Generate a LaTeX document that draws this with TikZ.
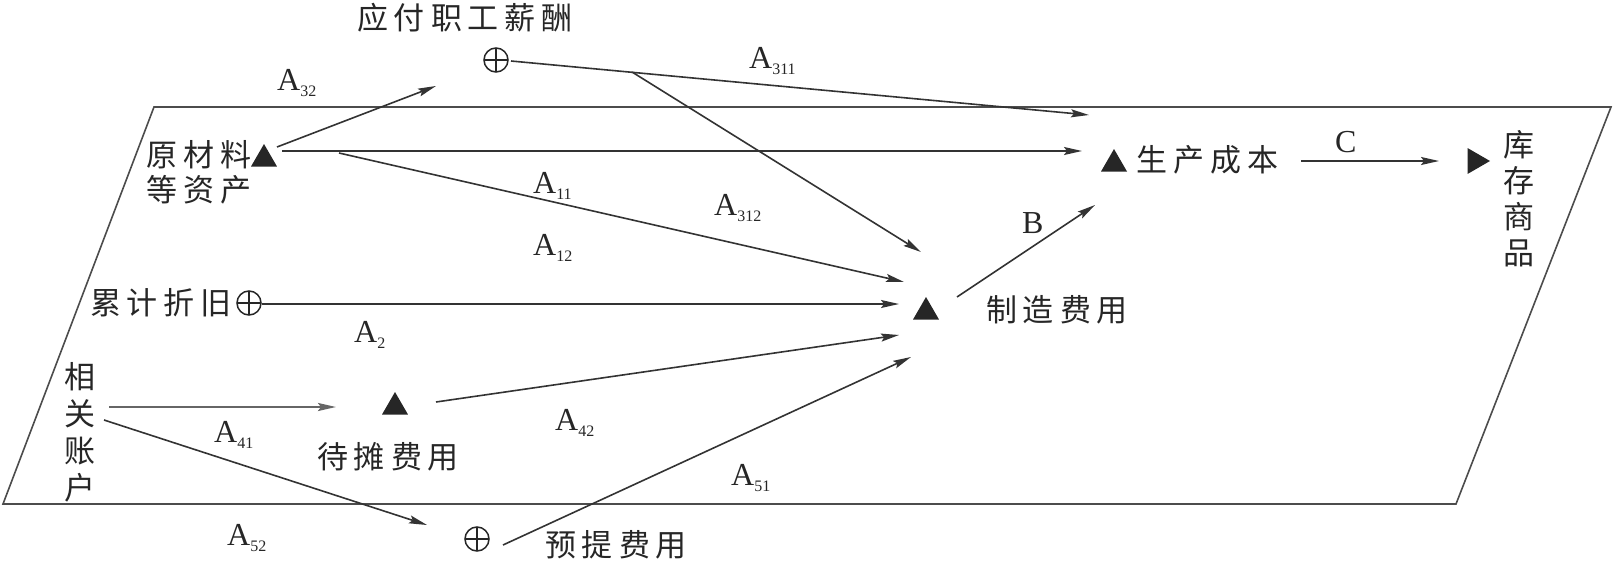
\documentclass[tikz,border=0pt]{standalone}
\usepackage{fontspec}
\newfontfamily\cjk{Noto Sans CJK SC}
\newfontfamily\tms{Liberation Serif}
\usetikzlibrary{shapes.geometric,arrows.meta}
\makeatletter
\newcommand\ls[1]{\@tfor\lsch:=#1\do{\lsch\kern6pt}\unkern}
\makeatother
\newcommand\lab[2]{#1\raisebox{-6pt}{\fontsize{16}{16}\selectfont #2}}
\begin{document}
\begin{tikzpicture}[x=1pt,y=-1pt,
  ln/.style={line width=1.6pt, draw=black!80},
  arr/.style={ln, -{Stealth[length=18pt,width=8pt,inset=3pt]}},
  tri/.style={regular polygon, regular polygon sides=3, fill=black!85, inner sep=0pt, minimum size=30pt},
  plus/.style={circle, draw=black!85, line width=1.5pt, minimum size=24pt, inner sep=0pt,
    path picture={\draw[line width=1.5pt,black!85] (path picture bounding box.north) -- (path picture bounding box.south)
      (path picture bounding box.west) -- (path picture bounding box.east);}},
  txt/.style={font=\cjk\fontsize{31}{35}\selectfont, inner sep=0pt, text=black!85},
  vtxt/.style={txt, align=center},
  lbl/.style={font=\tms\fontsize{32}{32}\selectfont, inner sep=0pt, anchor=base west, text=black!85}
]
\useasboundingbox (0,0) rectangle (1617,562);
% plane
\draw[line width=1.6pt, draw=black!70] (154,107) -- (1611,107) -- (1456,504) -- (3,504) -- cycle;

% nodes
\node[txt] (wagetxt) at (465,18) {\ls{应付职工薪酬}};
\node[plus] (plus1) at (496,60) {};
\node[txt, anchor=west, align=left] (rawtxt) at (146,172) {\ls{原材料}\\\ls{等资产}};
\node[tri] (tri1) at (264,159) {};
\node[tri] (tri2) at (1114,164) {};
\node[txt, anchor=west] (prodtxt) at (1136,160) {\ls{生产成本}};
\node[tri, shape border rotate=-90] (tri3) at (1475,161) {};
\node[vtxt, font=\cjk\fontsize{31}{36}\selectfont] (invtxt) at (1519,199) {库\\存\\商\\品};
\node[tri] (tri4) at (926,312) {};
\node[txt] (mfgtxt) at (1057,310) {\ls{制造费用}};
\node[txt] (deptxt) at (161,303) {\ls{累计折旧}};
\node[plus] (plus2) at (249,303) {};
\node[vtxt, font=\cjk\fontsize{31}{37}\selectfont] (reltxt) at (80,432) {相\\关\\账\\户};
\node[tri] (tri5) at (395,407) {};
\node[txt] (pretxt) at (388,457) {\ls{待摊费用}};
\node[plus] (plus3) at (477,539) {};
\node[txt] (acctxt) at (616,545) {\ls{预提费用}};

% connectors
\draw[arr] ([shift={(13,-12)}]tri1.center) -- ([shift={(-60,26)}]plus1.center);
\draw[arr] ([shift={(18,-8)}]tri1.center) -- ([shift={(-32,-13)}]tri2.center);
\draw[arr] ([shift={(75,-6)}]tri1.center) -- ([shift={(-22,-30)}]tri4.center);
\draw[arr] ([shift={(15,1)}]plus1.center) -- ([shift={(-25,-49)}]tri2.center);
\draw[arr] ([shift={(136,12)}]plus1.center) -- ([shift={(-5,-60)}]tri4.center);
\draw[arr] ([shift={(31,-15)}]tri4.center) -- ([shift={(-19,41)}]tri2.center);
\draw[arr] ([shift={(23,1)}]prodtxt.east) -- ([shift={(-36,0)}]tri3.center);
\draw[arr] ([shift={(13,1)}]plus2.center) -- ([shift={(-27,-8)}]tri4.center);
\draw[arr, draw=black!60, line width=2.2pt] ([shift={(29,-25)}]reltxt.center) -- ([shift={(-59,0)}]tri5.center);
\draw[arr] ([shift={(41,-5)}]tri5.center) -- ([shift={(-27,23)}]tri4.center);
\draw[arr] ([shift={(24,-12)}]reltxt.center) -- ([shift={(-50,-14)}]plus3.center);
\draw[arr] ([shift={(26,6)}]plus3.center) -- ([shift={(-15,45)}]tri4.center);

% labels
\node[lbl] (l32) at (277,90) {\lab{A}{32}};
\node[lbl] (l311) at (749,68) {\lab{A}{311}};
\node[lbl] (l11) at (533,193) {\lab{A}{11}};
\node[lbl] (l12) at (533,255) {\lab{A}{12}};
\node[lbl] (l312) at (714,215) {\lab{A}{312}};
\node[lbl] (lB) at (1022,233) {B};
\node[lbl] (lC) at (1335,152) {C};
\node[lbl] (l2) at (354,342) {\lab{A}{2}};
\node[lbl] (l41) at (214,442) {\lab{A}{41}};
\node[lbl] (l42) at (555,430) {\lab{A}{42}};
\node[lbl] (l51) at (731,485) {\lab{A}{51}};
\node[lbl] (l52) at (227,545) {\lab{A}{52}};
\end{tikzpicture}
\end{document}
